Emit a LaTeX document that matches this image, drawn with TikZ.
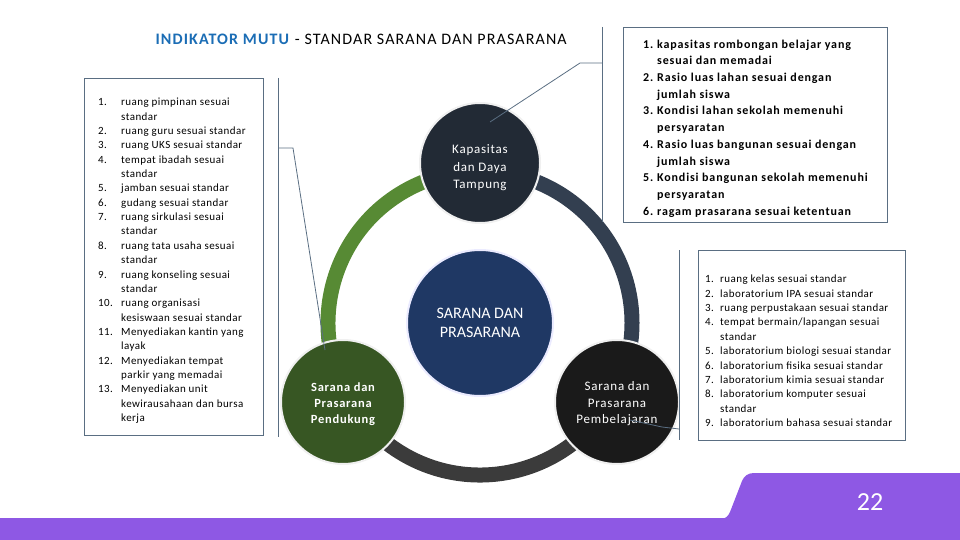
\documentclass[tikz,border=0pt]{standalone}
\usepackage{fontspec}
\setmainfont{Carlito}
\newfontfamily\spacedfont[LetterSpace=6]{Carlito}
\newfontfamily\listfont[LetterSpace=4]{Carlito}
\newfontfamily\boxfont[LetterSpace=7]{Carlito}
\newfontfamily\titlefont[LetterSpace=7]{Carlito}

\definecolor{titleblue}{HTML}{1B6DB5}
\definecolor{boxline}{HTML}{5A6E82}
\definecolor{ringgreen}{HTML}{578A34}
\definecolor{ringslate}{HTML}{333F50}
\definecolor{ringgray}{HTML}{3B3B3B}
\definecolor{topfill}{HTML}{222A35}
\definecolor{midfill}{HTML}{1F3864}
\definecolor{leftfill}{HTML}{375623}
\definecolor{rightfill}{HTML}{1A1A1A}
\definecolor{bandfill}{HTML}{8E58E4}

% lower a block of lines inside a node without moving the node
\newcommand{\lowered}[2]{\raisebox{-#1}[\height][\depth]{\begin{tabular}{@{}c@{}}#2\end{tabular}}}

\tikzset{
  listbox/.style={draw=boxline, line width=0.8pt, inner sep=0pt},
  listtext/.style={anchor=north west, inner sep=0pt},
  callout/.style={draw=boxline, line width=0.8pt},
  ringarc/.style={line width=15pt},
  hub/.style={circle, draw=white!88!gray, line width=2pt, text=white,
    align=center, inner sep=0pt},
}

\begin{document}
\begin{tikzpicture}[x=1pt,y=-1pt]
  \useasboundingbox (0,0) rectangle (960,540);
  % footer band with page tab
  \fill[bandfill] (0,518) rectangle (960,540);
  \fill[bandfill] (700,519) -- (720,519) .. controls (726,519) and (728,516) .. (730,512)
    -- (742,481) .. controls (744,476) and (748,473) .. (754,473)
    -- (960,473) -- (960,519) -- cycle;
  \node[font=\fontsize{26}{30}\selectfont, text=white] (pagenum) at (870,502) {22};

  \node[anchor=west, font=\titlefont\fontsize{16}{19}\selectfont] (title) at (152,39)
    {\textcolor{titleblue}{\textbf{INDIKATOR MUTU}} - STANDAR SARANA DAN PRASARANA};

  % ring
  \coordinate (ring) at (480,323);
  \draw[ringarc, ringgreen] (ring) ++(150:152) arc[start angle=150, end angle=270, radius=152];
  \draw[ringarc, ringslate] (ring) ++(270:152) arc[start angle=270, end angle=390, radius=152];
  \draw[ringarc, ringgray] (ring) ++(30:152) arc[start angle=30, end angle=150, radius=152];

  \node[hub, fill=topfill, minimum size=120pt,
    font=\spacedfont\fontsize{13}{17.5}\selectfont] (kapasitas) at (480,163)
    {\lowered{5pt}{Kapasitas\\dan Daya\\Tampung}};
  \node[hub, fill=midfill, draw=blue!8!white, minimum size=146pt,
    font=\fontsize{16}{19}\selectfont] (sarpras) at (ring) {SARANA DAN\\PRASARANA};
  \node[hub, fill=leftfill, minimum size=124pt,
    font=\spacedfont\bfseries\fontsize{12.5}{16}\selectfont] (pendukung) at (343,402)
    {\lowered{2pt}{Sarana dan\\Prasarana\\Pendukung}};
  \node[hub, fill=rightfill, minimum size=124pt,
    font=\spacedfont\fontsize{13}{16.5}\selectfont] (pembelajaran) at (617,402)
    {\lowered{2pt}{Sarana dan\\Prasarana\\Pembelajaran}};

  % list boxes
  \node[listbox, minimum width=179pt, minimum height=357pt] (pendukungbox) at (173.5,256.5) {};
  \node[listbox, minimum width=264pt, minimum height=195pt] (kapasitasbox) at (755,124.5) {};
  \node[listbox, minimum width=207pt, minimum height=190pt] (pembelajaranbox) at (801.5,345) {};

  \node[listtext, font=\listfont\fontsize{11}{14.36}\selectfont] (pendukunglist) at (98,95.5) {%
    \begin{tabular}{@{}p{23pt}@{}l@{}}
      1.  & ruang pimpinan sesuai\\
          & standar\\
      2.  & ruang guru sesuai standar\\
      3.  & ruang UKS sesuai standar\\
      4.  & tempat ibadah sesuai\\
          & standar\\
      5.  & jamban sesuai standar\\
      6.  & gudang sesuai standar\\
      7.  & ruang sirkulasi sesuai\\
          & standar\\
      8.  & ruang tata usaha sesuai\\
          & standar\\
      9.  & ruang konseling sesuai\\
          & standar\\
      10. & ruang organisasi\\
          & kesiswaan sesuai standar\\
      11. & Menyediakan kantin yang\\
          & layak\\
      12. & Menyediakan tempat\\
          & parkir yang memadai\\
      13. & Menyediakan unit\\
          & kewirausahaan dan bursa\\
          & kerja
    \end{tabular}};

  \node[listtext, font=\boxfont\bfseries\fontsize{12}{16.7}\selectfont] (kapasitaslist) at (643,36.3) {%
    \begin{tabular}{@{}p{14pt}@{}l@{}}
      1. & kapasitas rombongan belajar yang\\
         & sesuai dan memadai\\
      2. & Rasio luas lahan sesuai dengan\\
         & jumlah siswa\\
      3. & Kondisi lahan sekolah memenuhi\\
         & persyaratan\\
      4. & Rasio luas bangunan sesuai dengan\\
         & jumlah siswa\\
      5. & Kondisi bangunan sekolah memenuhi\\
         & persyaratan\\
      6. & ragam prasarana sesuai ketentuan
    \end{tabular}};

  \node[listtext, font=\listfont\fontsize{11}{14.4}\selectfont] (pembelajaranlist) at (705,272.5) {%
    \begin{tabular}{@{}p{15pt}@{}l@{}}
      1. & ruang kelas sesuai standar\\
      2. & laboratorium IPA sesuai standar\\
      3. & ruang perpustakaan sesuai standar\\
      4. & tempat bermain/lapangan sesuai\\
         & standar\\
      5. & laboratorium biologi sesuai standar\\
      6. & laboratorium fisika sesuai standar\\
      7. & laboratorium kimia sesuai standar\\
      8. & laboratorium komputer sesuai\\
         & standar\\
      9. & laboratorium bahasa sesuai standar
    \end{tabular}};

  % callout brackets
  \coordinate (kapbrace top) at (602,27);
  \coordinate (kapbrace bottom) at (602,222);
  \coordinate (kapbrace mid) at (602,63);
  \coordinate (kapelbow) at (580,63);
  \coordinate (kaptip) at (490,122);
  \draw[callout] (kapbrace top) -- (kapbrace bottom);
  \draw[callout] (kapbrace mid) -- (kapelbow) -- (kaptip);

  \coordinate (pdkbrace top) at (278,78);
  \coordinate (pdkbrace bottom) at (278,437);
  \coordinate (pdkbrace mid) at (278,148);
  \coordinate (pdkelbow) at (293,148);
  \coordinate (pdktip) at (325,350);
  \draw[callout] (pdkbrace top) -- (pdkbrace bottom);
  \draw[callout] (pdkbrace mid) -- (pdkelbow) -- (pdktip);

  \coordinate (pbjbrace top) at (679,250);
  \coordinate (pbjbrace bottom) at (679,440);
  \coordinate (pbjbrace mid) at (679,429);
  \coordinate (pbjelbow) at (662,427);
  \coordinate (pbjtip) at (630,420);
  \draw[callout] (pbjbrace top) -- (pbjbrace bottom);
  \draw[callout] (pbjbrace mid) -- (pbjelbow) -- (pbjtip);
\end{tikzpicture}
\end{document}
